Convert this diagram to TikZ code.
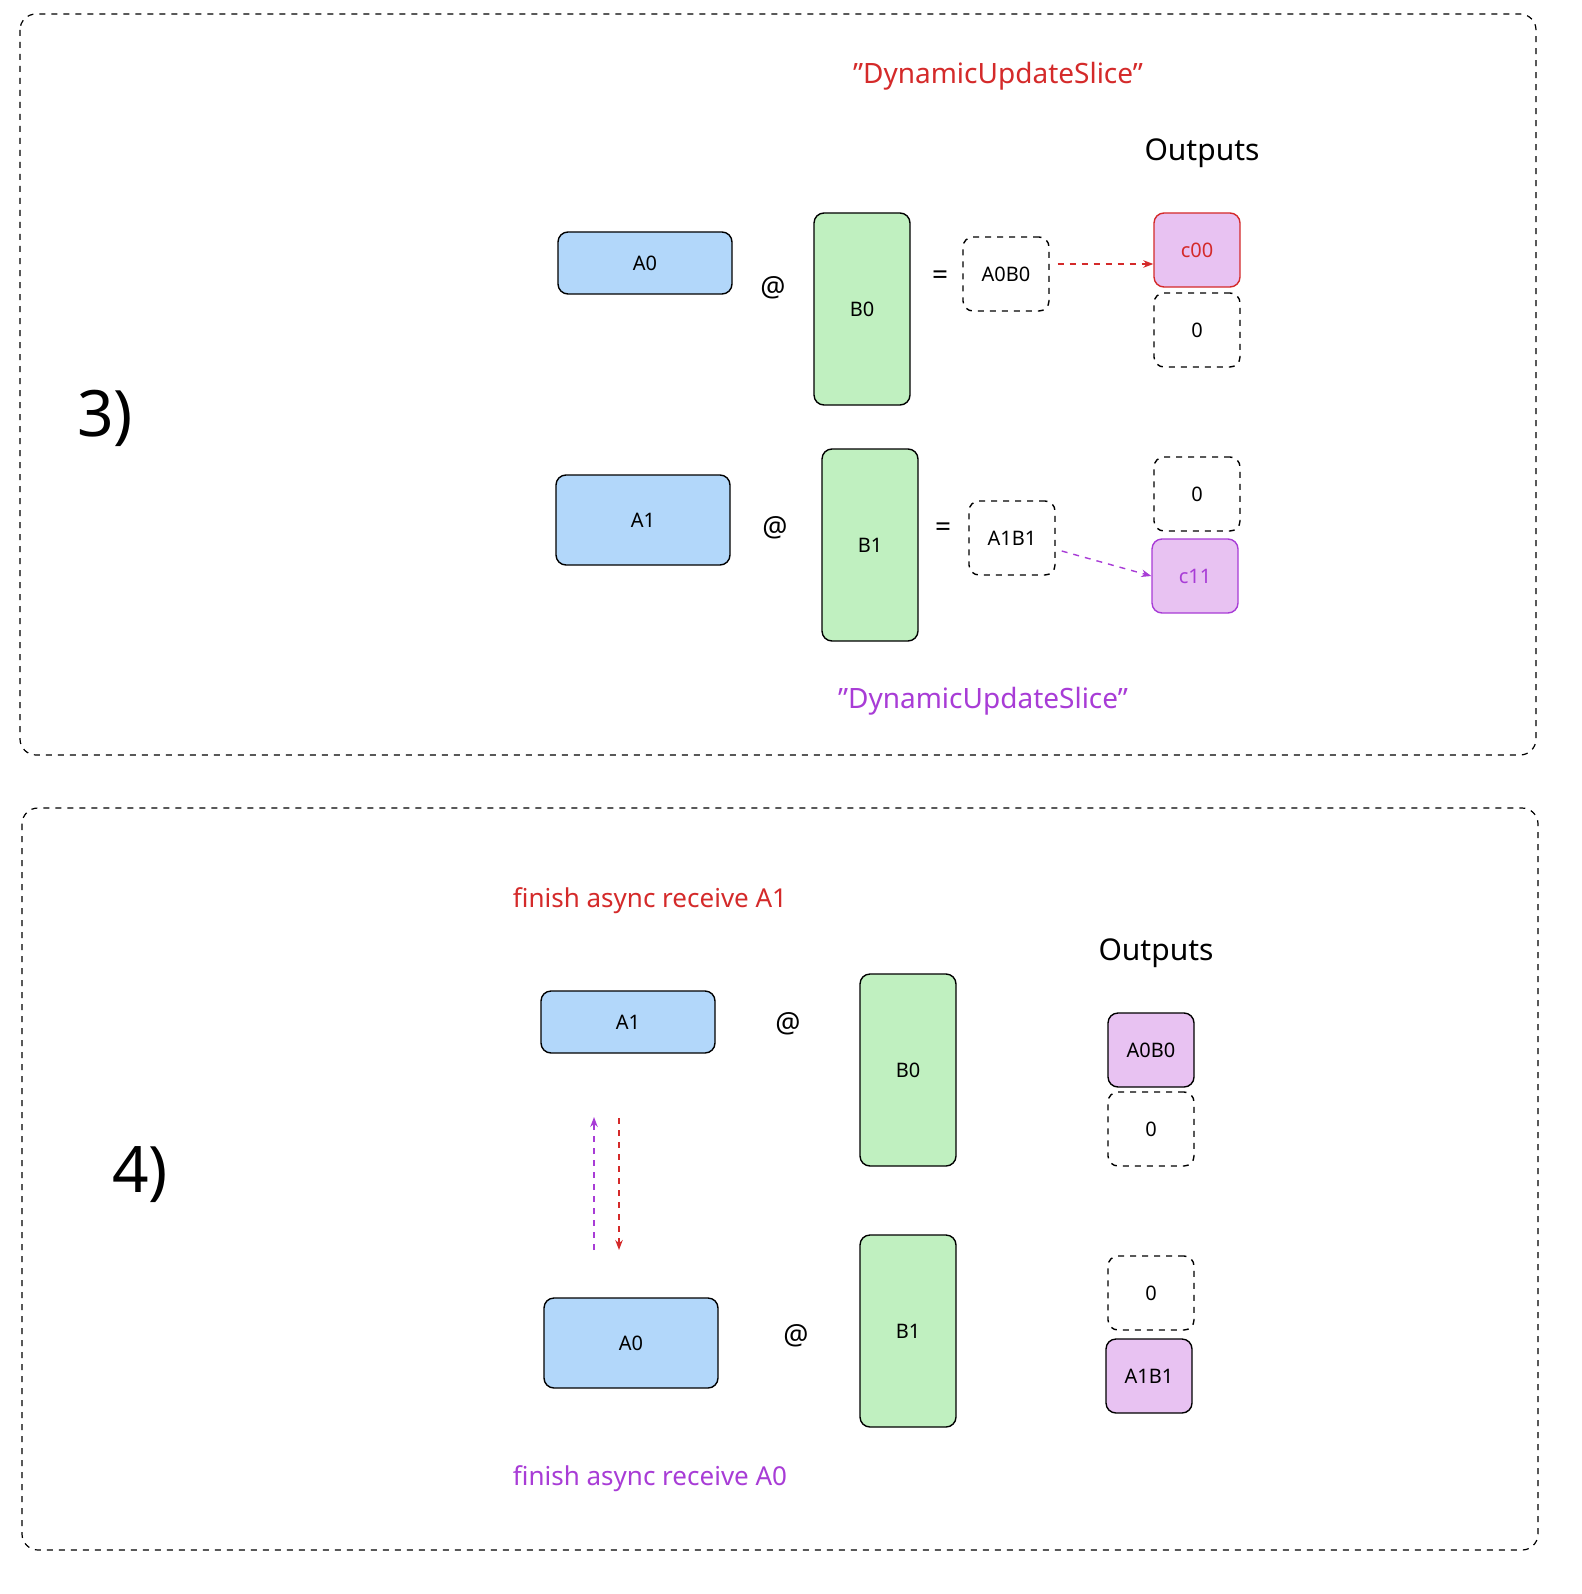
\documentclass[tikz,border=0pt]{standalone}
\usepackage{fontspec}
\setmainfont{Noto Sans}
\usetikzlibrary{arrows.meta}
\definecolor{boxblue}{HTML}{B2D7FA}
\definecolor{boxgreen}{HTML}{C0F0C0}
\definecolor{boxpink}{HTML}{E8C2F2}
\definecolor{tred}{HTML}{D42A2A}
\definecolor{tpurple}{HTML}{A83CD6}
\tikzset{
  box/.style={draw, rounded corners=5pt, line width=0.7pt, font=\fontsize{10}{12}\selectfont},
  blue box/.style={box, fill=boxblue},
  green box/.style={box, fill=boxgreen},
  pink box/.style={box, fill=boxpink},
  slot/.style={box, dashed, minimum width=43pt, minimum height=37pt},
  frame/.style={draw, dashed, rounded corners=8pt, line width=0.6pt},
  op/.style={font=\fontsize{14}{16}\selectfont\bfseries},
  arr/.style={dashed, line width=0.7pt, -{Stealth[length=5pt]}},
}
\begin{document}
\begin{tikzpicture}[x=0.5pt, y=-0.5pt]
  \useasboundingbox (0,0) rectangle (1582,1594);
  % 1. Panel 3
  \draw[frame] (20,14) rectangle (1536,755);
  \node[font=\fontsize{32}{36}\selectfont] (n3) at (105,418) {3)};
  \node[text=tred, font=\fontsize{14}{16}\selectfont] (dus0) at (998,76) {"DynamicUpdateSlice"};
  \node[font=\fontsize{15}{18}\selectfont] (out0) at (1202,153) {Outputs};

  % Top row
  \node[blue box, minimum width=87pt, minimum height=31pt] (a0) at (645,263) {A0};
  \node[op] (at0) at (773,288) {@};
  \node[green box, minimum width=48pt, minimum height=96pt] (b0) at (862,309) {B0};
  \node[op] (eq0) at (940,278) {=};
  \node[slot] (a0b0) at (1006,274) {A0B0};
  \node[pink box, draw=tred, text=tred, minimum width=43pt, minimum height=37pt] (c00) at (1197,250) {c00};
  \node[slot] (z0) at (1197,330) {0};

  % Bottom row
  \node[blue box, minimum width=87pt, minimum height=45pt] (a1) at (643,520) {A1};
  \node[op] (at1) at (775,528) {@};
  \node[green box, minimum width=48pt, minimum height=96pt] (b1) at (870,545) {B1};
  \node[op] (eq1) at (943,530) {=};
  \node[slot] (a1b1) at (1012,538) {A1B1};
  \node[slot] (z1) at (1197,494) {0};
  \node[pink box, draw=tpurple, text=tpurple, minimum width=43pt, minimum height=37pt] (c11) at (1195,576) {c11};
  \node[text=tpurple, font=\fontsize{14}{16}\selectfont] (dus1) at (983,701) {"DynamicUpdateSlice"};

  \draw[arr, tred] (a0b0.east) ++(8,-10) coordinate (s0) (s0) -- (c00.west |- s0);
  \draw[arr, tpurple] (a1b1.east) ++(6,13) coordinate (s1) (s1) -- (c11.west);

  % 2. Panel 4
  \draw[frame] (22,808) rectangle (1538,1550);
  \node[font=\fontsize{32}{36}\selectfont] (n4) at (140,1175) {4)};
  \node[text=tred, font=\fontsize{13}{16}\selectfont] (fin1) at (650,901) {finish async receive A1};
  \node[font=\fontsize{15}{18}\selectfont] (out1) at (1156,953) {Outputs};

  \node[blue box, minimum width=87pt, minimum height=31pt] (a1b) at (628,1022) {A1};
  \node[op] (at2) at (788,1024) {@};
  \node[green box, minimum width=48pt, minimum height=96pt] (b0b) at (908,1070) {B0};
  \node[pink box, minimum width=43pt, minimum height=37pt] (p0) at (1151,1050) {A0B0};
  \node[slot] (z2) at (1151,1129) {0};

  \node[blue box, minimum width=87pt, minimum height=45pt] (a0b) at (631,1343) {A0};
  \node[op] (at3) at (796,1336) {@};
  \node[green box, minimum width=48pt, minimum height=96pt] (b1b) at (908,1331) {B1};
  \node[slot] (z3) at (1151,1293) {0};
  \node[pink box, minimum width=43pt, minimum height=37pt] (p1) at (1149,1376) {A1B1};
  \node[text=tpurple, font=\fontsize{13}{16}\selectfont] (fin0) at (650,1479) {finish async receive A0};

  \coordinate (u0) at (594,1250);
  \coordinate (u1) at (594,1117);
  \coordinate (d0) at (619,1118);
  \coordinate (d1) at (619,1250);
  \draw[arr, tpurple] (u0) -- (u1);
  \draw[arr, tred] (d0) -- (d1);
\end{tikzpicture}
\end{document}
